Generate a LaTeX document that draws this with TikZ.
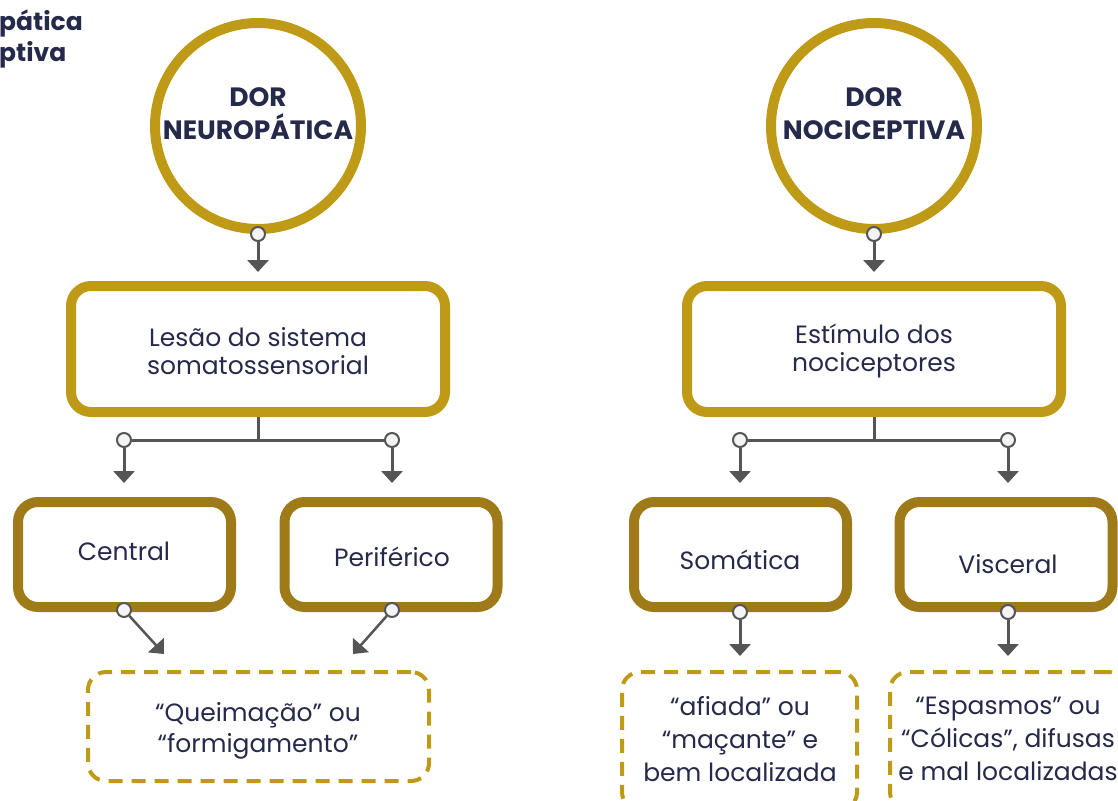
\documentclass[tikz,border=0pt]{standalone}
\usepackage{fontspec}
\setmainfont{Poppins}
\usetikzlibrary{arrows.meta}
\definecolor{gold}{HTML}{BF9A16}
\definecolor{darkgold}{HTML}{9E7B18}
\definecolor{navy}{HTML}{252A4B}
\definecolor{wire}{HTML}{555555}
\definecolor{dotfill}{HTML}{F4F4F4}
\tikzset{
  bigcircle/.style={circle, draw=gold, line width=10pt, minimum size=206pt, inner sep=0pt},
  titletext/.style={align=center, text=navy, inner sep=0pt,
    font=\fontsize{26.5}{33}\selectfont\bfseries},
  mainbox/.style={rectangle, rounded corners=20pt, draw=gold, line width=10pt,
    minimum width=374pt, minimum height=126pt},
  subbox/.style={rectangle, rounded corners=20pt, draw=darkgold, line width=10pt,
    minimum width=213pt, minimum height=105pt},
  boxtext/.style={align=center, text=navy, inner sep=0pt,
    font=\fontsize{25}{28}\selectfont},
  notebox/.style={rectangle, rounded corners=18pt, draw=gold, line width=4pt,
    dash pattern=on 14pt off 9pt},
  notetext/.style={align=center, text=navy, inner sep=0pt,
    font=\fontsize{25}{31}\selectfont},
  dot/.style={circle, draw=wire, fill=dotfill, line width=2pt, minimum size=14pt, inner sep=0pt},
  wireline/.style={draw=wire, line width=3pt},
  arrowline/.style={wireline, -{Triangle[width=21pt,length=12pt]}},
}
\begin{document}
\begin{tikzpicture}[x=1pt,y=-1pt]
\useasboundingbox (0,0) rectangle (1118,800);
\begin{scope}
\clip (0,0) rectangle (1118,800);

% caption at the upper left
\node[anchor=north west, align=left, text=navy, inner sep=0pt,
  font=\fontsize{25}{31}\selectfont\bfseries] (caption) at (-1,10)
  {pática\\ptiva};

% ---------- left branch ----------
\node[bigcircle] (c1) at (258,126) {};
\node[titletext] (c1t) at (258,114) {DOR\\NEUROPÁTICA};
\node[mainbox] (b1) at (258,349) {};
\node[boxtext] (b1t) at (258,351) {Lesão do sistema\\somatossensorial};
\node[subbox] (s1) at (124.5,554.5) {};
\node[boxtext] (s1t) at (124,551) {Central};
\node[subbox] (s2) at (391,554.5) {};
\node[boxtext] (s2t) at (392,557) {Periférico};
\node[notebox, minimum width=341pt, minimum height=109pt] (n1) at (258.5,726.5) {};
\node[notetext] (n1t) at (258,731) {“Queimação” ou\\“formigamento”};

\coordinate (t1) at (258,272);
\draw[wireline] (b1.south) -- (b1.south |- 0,440);
\draw[wireline] (124,440) -- (392,440);
\node[dot] (j1) at (124,440) {};
\node[dot] (j2) at (392,440) {};
\coordinate (t2) at (124,483);
\coordinate (t3) at (392,483);
\coordinate (t4) at (164,654);
\coordinate (t5) at (353,654);
\draw[arrowline] (c1.south) -- (t1);
\draw[arrowline] (j1) -- (t2);
\draw[arrowline] (j2) -- (t3);
\node[dot] (o1) at (c1.south) {};
\node[dot] (o2) at (124,610) {};
\node[dot] (o3) at (392,610) {};
\draw[arrowline, line width=2.5pt] (o2) -- (t4);
\draw[arrowline, line width=2.5pt] (o3) -- (t5);

% ---------- right branch ----------
\node[bigcircle] (c2) at (874,126) {};
\node[titletext] (c2t) at (874,114) {DOR\\NOCICEPTIVA};
\node[mainbox] (b2) at (874,349) {};
\node[boxtext] (b2t) at (874,351) {Estímulo dos\\nociceptores};
\node[subbox] (s3) at (740.5,554.5) {};
\node[boxtext] (s3t) at (740,560) {Somática};
\node[subbox] (s4) at (1006,554.5) {};
\node[boxtext] (s4t) at (1008,564) {Visceral};
\node[notebox, minimum width=235pt, minimum height=138pt] (n2) at (739.5,741) {};
\node[notetext, font=\fontsize{25}{33}\selectfont] (n2t) at (740,739)
  {“afiada” ou\\“maçante” e\\bem localizada};
\node[notebox, minimum width=236pt, minimum height=138pt] (n3) at (1008,741) {};
\node[notetext, font=\fontsize{25}{33}\selectfont] (n3t) at (1008,739)
  {“Espasmos” ou\\“Cólicas”, difusas\\e mal localizadas};

\coordinate (t6) at (874,272);
\draw[wireline] (b2.south) -- (b2.south |- 0,440);
\draw[wireline] (740,440) -- (1008,440);
\node[dot] (j3) at (740,440) {};
\node[dot] (j4) at (1008,440) {};
\coordinate (t7) at (740,483);
\coordinate (t8) at (1008,483);
\coordinate (t9) at (740,656);
\coordinate (t10) at (1008,656);
\draw[arrowline] (c2.south) -- (t6);
\draw[arrowline] (j3) -- (t7);
\draw[arrowline] (j4) -- (t8);
\node[dot] (o4) at (c2.south) {};
\node[dot] (o5) at (740,612) {};
\node[dot] (o6) at (1008,612) {};
\draw[arrowline] (o5) -- (t9);
\draw[arrowline] (o6) -- (t10);
\end{scope}
\end{tikzpicture}
\end{document}
